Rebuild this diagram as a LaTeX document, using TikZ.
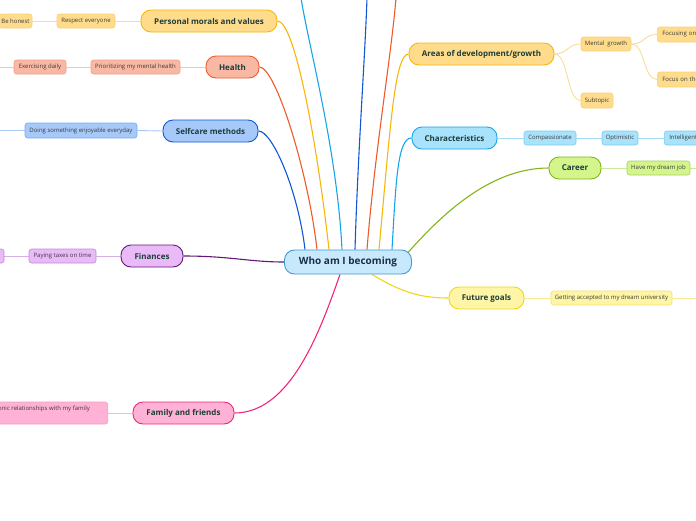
\documentclass[tikz,border=0pt]{standalone}
\usepackage{fontspec}
\setmainfont{Open Sans}
\usetikzlibrary{backgrounds,calc}
\definecolor{yelF}{HTML}{FFDC8C}\definecolor{yelD}{HTML}{F6B60A}\definecolor{yelSB}{HTML}{F9CF7A}\definecolor{yelL}{HTML}{FADC9A}
\definecolor{hF}{HTML}{F9B8A4}\definecolor{hD}{HTML}{EF5A2B}\definecolor{hSB}{HTML}{F0A08A}\definecolor{hL}{HTML}{F7C5B6}
\definecolor{sF}{HTML}{A7C9FA}\definecolor{sD}{HTML}{0F57D3}\definecolor{sSB}{HTML}{7AA9F0}\definecolor{sL}{HTML}{A9C8F5}
\definecolor{fF}{HTML}{EABAF8}\definecolor{fD}{HTML}{621878}\definecolor{fSB}{HTML}{C08CD4}\definecolor{fL}{HTML}{D7B0E3}
\definecolor{mF}{HTML}{FFB2D5}\definecolor{mD}{HTML}{EF2679}\definecolor{mSB}{HTML}{F59CC6}\definecolor{mL}{HTML}{FBBAD6}
\definecolor{cF}{HTML}{C8E9FB}\definecolor{cD}{HTML}{3E99D6}
\definecolor{chF}{HTML}{A8E2FB}\definecolor{chD}{HTML}{17A5EA}\definecolor{chSB}{HTML}{80CBF0}\definecolor{chL}{HTML}{A5DDF6}
\definecolor{kF}{HTML}{D4F48C}\definecolor{kD}{HTML}{83B516}\definecolor{kSB}{HTML}{A6D062}\definecolor{kL}{HTML}{CBEA97}
\definecolor{gF}{HTML}{FFF5A6}\definecolor{gD}{HTML}{EFD71A}\definecolor{gSB}{HTML}{F3DF72}\definecolor{gL}{HTML}{F7EA92}
\definecolor{topictext}{HTML}{1D3D3A}\definecolor{centertext}{HTML}{1C2C4C}\definecolor{subtext}{HTML}{3A3A3A}
\begin{document}
\begin{tikzpicture}[x=1pt,y=-1pt,
  topic/.style={draw, rounded corners=10pt, line width=0.9pt, minimum height=22pt, inner sep=0pt,
    font=\bfseries\fontsize{8}{9}\selectfont, text=topictext},
  centre/.style={draw, rounded corners=10pt, line width=0.9pt, minimum height=24pt, inner sep=0pt,
    font=\bfseries\fontsize{10}{11}\selectfont, text=centertext, fill=cF, draw=cD},
  sub/.style={draw, rounded corners=2.5pt, line width=0.6pt, minimum height=14pt, inner sep=0pt,
    font=\fontsize{6}{7}\selectfont, text=subtext},
  cut/.style={sub, anchor=west, align=left, inner xsep=5pt},
  br/.style={line width=1.1pt},
  sl/.style={line width=0.9pt}]
\useasboundingbox (0,0) rectangle (696,520);
\clip (0,0) rectangle (696,520);

% central
\node[centre, minimum width=127pt] (c) at (348,262) {Who am I becoming};

% left topics
\node[topic, fill=yelF, draw=yelD, minimum width=136pt] (pm) at (209,21) {Personal morals and values};
\node[sub, fill=yelF, draw=yelSB, minimum width=58pt] (re) at (86,21) {Respect everyone};
\node[sub, fill=yelF, draw=yelSB, minimum width=33pt] (bh) at (15.5,21) {Be honest};

\node[topic, fill=hF, draw=hD, minimum width=53pt] (h) at (232.5,67) {Health};
\node[sub, fill=hF, draw=hSB, minimum width=89pt] (pr) at (135.5,67) {Prioritizing my mental health};
\node[sub, fill=hF, draw=hSB, minimum width=52pt] (ex) at (40,67) {Exercising daily};
\coordinate (exl) at (-2,67);

\node[topic, fill=sF, draw=sD, minimum width=95pt] (s) at (210.5,131) {Selfcare methods};
\node[sub, fill=sF, draw=sSB, minimum width=112pt, minimum height=15pt] (de) at (81,130.5) {Doing something enjoyable everyday};
\coordinate (del) at (-2,130.5);

\node[topic, fill=fF, draw=fD, minimum width=62pt] (fin) at (152,256) {Finances};
\node[sub, fill=fF, draw=fSB, minimum width=67pt] (pt) at (62.5,256) {Paying taxes on time};
\node[sub, fill=fF, draw=fSB, minimum width=40pt] (lf) at (-16,256) {};

\node[topic, fill=mF, draw=mD, minimum width=101pt] (ff) at (183.5,413) {Family and friends};
\node[sub, fill=mF, draw=mSB, minimum width=240pt, minimum height=22pt, anchor=east] (hr) at (108,413) {};
\node[anchor=east, inner sep=0pt, font=\fontsize{6}{7}\selectfont, text=subtext] (hrt) at (90,409) {Have harmonic relationships with my family};

% right topics
\node[topic, fill=yelF, draw=yelD, minimum width=145pt] (a) at (481.5,54) {Areas of development/growth};
\node[sub, fill=yelF, draw=yelSB, minimum width=50pt] (mg) at (606,44) {Mental\ \ growth};
\node[sub, fill=yelF, draw=yelSB, minimum width=32pt, minimum height=15pt] (st) at (597,100.5) {Subtopic};
\node[cut, fill=yelF, draw=yelSB, text width=60pt, minimum height=15pt] (f1) at (657,34.5) {Focusing on};
\node[cut, fill=yelF, draw=yelSB, text width=60pt, minimum height=15pt] (f2) at (657,79.5) {Focus on the};

\node[topic, fill=chF, draw=chD, minimum width=85pt] (ch) at (454.5,138) {Characteristics};
\node[sub, fill=chF, draw=chSB, minimum width=52pt] (cp) at (550,138) {Compassionate};
\node[sub, fill=chF, draw=chSB, minimum width=36pt] (op) at (620,138) {Optimistic};
\node[cut, fill=chF, draw=chSB, text width=40pt] (in) at (664,138) {Intelligent};

\node[topic, fill=kF, draw=kD, minimum width=52pt] (car) at (575,168) {Career};
\node[sub, fill=kF, draw=kSB, minimum width=63pt] (dj) at (658.5,168) {Have my dream job};
\coordinate (djr) at (698,168);

\node[topic, fill=gF, draw=gD, minimum width=75pt] (fg) at (486.5,298) {Future goals};
\node[sub, fill=gF, draw=gSB, minimum width=121pt] (ga) at (611.5,298) {Getting accepted to my dream university};
\coordinate (gar) at (698,298);

% off-page branch ends
\coordinate (u1) at (301,-2);
\coordinate (u2) at (367,-2);
\coordinate (u3) at (396,-2);

\begin{pgfonlayer}{background}
  % main branches
  \draw[br, draw=yelD] (pm.east) .. controls +(18,0) and +(-11,-99) .. ([xshift=-19pt]c.north);
  \draw[br, draw=hD] (h.east) .. controls +(16,0) and +(-9,-79) .. ([xshift=-31pt]c.north);
  \draw[br, draw=sD] (s.east) .. controls +(14,0) and +(-7,-59) .. ([xshift=-43pt]c.north);
  \draw[br, draw=chD] ([xshift=-6pt]c.north) .. controls +(-5,-100) and +(8,50) .. (u1);
  \draw[br, draw=sD] ([xshift=7pt]c.north) .. controls +(3,-100) and +(-2,60) .. (u2);
  \draw[br, draw=hD] ([xshift=19pt]c.north) .. controls +(8,-100) and +(-5,60) .. (u3);
  \draw[br, draw=yelD] ([xshift=31pt]c.north) .. controls +(11,-119) and +(-14,0) .. (a.west);
  \draw[br, draw=chD] ([xshift=44pt]c.north) .. controls +(4,-69) and +(-14,0) .. (ch.west);
  \draw[br, draw=kD] ([shift={(-4,3)}]c.north east) .. controls +(33,-37) and +(-59,0) .. (car.west);
  \draw[br, draw=gD] ([xshift=24pt]c.south) .. controls +(28,17) and +(-29,0) .. (fg.west);
  \draw[br, draw=fD] (fin.east) .. controls +(47,0) and +(-35,0) .. (c.west);
  \draw[br, draw=mD] (ff.east) .. controls +(56,0) and +(-20,57) .. ([xshift=-8pt]c.south);
  % sub branches
  \draw[sl, draw=yelL] (pm.west) -- (re.east);
  \draw[sl, draw=yelL] (re.west) -- (bh.east);
  \draw[sl, draw=hL] (h.west) -- (pr.east);
  \draw[sl, draw=hL] (pr.west) -- (ex.east);
  \draw[sl, draw=hL] (ex.west) -- (exl);
  \draw[sl, draw=sL] (s.west) -- (de.east);
  \draw[sl, draw=sL] (de.west) -- (del);
  \draw[sl, draw=fL] (fin.west) -- (pt.east);
  \draw[sl, draw=fL] (pt.west) -- (lf.east);
  \draw[sl, draw=mL] (ff.west) -- (hr.east);
  \draw[sl, draw=yelL] (a.east) .. controls +(14,0) and +(-14,0) .. (mg.west);
  \draw[sl, draw=yelL] (a.east) .. controls +(14,0) and +(-14,0) .. (st.west);
  \draw[sl, draw=yelL] (mg.east) .. controls +(14,0) and +(-14,0) .. (f1.west);
  \draw[sl, draw=yelL] (mg.east) .. controls +(14,0) and +(-14,0) .. (f2.west);
  \draw[sl, draw=chL] (ch.east) -- (cp.west);
  \draw[sl, draw=chL] (cp.east) -- (op.west);
  \draw[sl, draw=chL] (op.east) -- (in.west);
  \draw[sl, draw=kL] (car.east) -- (dj.west);
  \draw[sl, draw=kL] (dj.east) -- (djr);
  \draw[sl, draw=gL] (fg.east) -- (ga.west);
  \draw[sl, draw=gL] (ga.east) -- (gar);
\end{pgfonlayer}
\end{tikzpicture}
\end{document}
